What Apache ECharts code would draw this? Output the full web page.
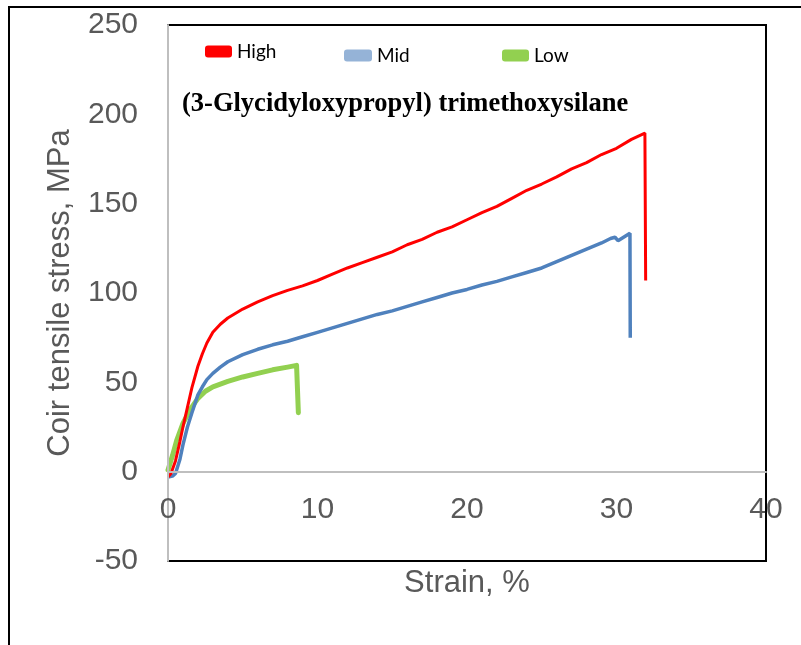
<!DOCTYPE html>
<html>
<head>
<meta charset="utf-8">
<script src="https://cdn.jsdelivr.net/npm/echarts@6/dist/echarts.min.js"></script>
<style>html,body{margin:0;padding:0;background:#fff}#c{width:801px;height:645px}</style>
</head>
<body>
<div id="c"></div>
<script>
// Strain (%) and stress (MPa)
const highStrain = [0, 0.2, 0.5, 0.8, 1.0, 1.3, 1.6, 2.0, 2.3, 2.6, 3.0, 3.5, 4, 5, 6, 7, 8, 9, 10, 11, 12, 13, 14, 15, 16, 17, 18, 19, 20, 21, 22, 23, 24, 25, 26, 27, 28, 29, 30, 31, 31.9, 31.95];
const highStress = [-3, -1, 6, 17, 25, 36, 47, 59, 66, 72, 78, 82.5, 86, 91, 95, 98.5, 101.5, 104, 107, 110.5, 114, 117, 120, 123, 127, 130, 134, 137, 141, 145, 148.5, 153, 157.5, 161, 165, 169.5, 173, 177.5, 181, 186, 189.5, 107];

const midStrain = [0, 0.3, 0.5, 0.8, 1.0, 1.3, 1.6, 2.0, 2.3, 2.6, 3.0, 3.5, 4, 5, 6, 7, 8, 9, 10, 11, 12, 13, 14, 15, 16, 17, 18, 19, 20, 21, 22, 23, 24, 25, 26, 27, 28, 29, 29.6, 29.9, 30.1, 30.9, 30.92];
const midStress = [-3, -2.5, -1, 7, 15, 25, 33, 43, 47.5, 51.5, 55, 58.5, 61.5, 65.5, 68.5, 71, 73, 75.5, 78, 80.5, 83, 85.5, 88, 90, 92.5, 95, 97.5, 100, 102, 104.5, 106.5, 109, 111.5, 114, 117.5, 121, 124.5, 128, 130.5, 131.2, 129.3, 133.5, 75];

const lowStrain = [0, 0.3, 0.6, 1.0, 1.5, 2.0, 2.5, 3.0, 4, 5, 6, 7, 8, 8.6, 8.7, 8.72];
const lowStress = [1, 9, 18, 27, 35, 41, 45, 47.5, 50.5, 53, 55, 57, 58.5, 59.5, 58.5, 33];

const xTicks = {min: 0, max: 40, interval: 10};
const yTicks = {min: -50, max: 250, interval: 50};

const seriesNames = ['High', 'Mid', 'Low'];
const titleText = '(3-Glycidyloxypropyl) trimethoxysilane';
const xTitle = 'Strain, %';
const yTitle = 'Coir tensile stress, MPa';

function pairs(xs, ys) { return xs.map((x, i) => [x, ys[i]]); }

const gridTop = 25, gridBottom = 84, H = 645;
const plotH = H - gridTop - gridBottom;
// shift the x axis (line + labels) up to the y = 0 level, computed through the y range
const zeroOffset = -plotH * (0 - yTicks.min) / (yTicks.max - yTicks.min);

const chart = echarts.init(document.getElementById('c'), null, {renderer: 'canvas'});
const legendText = {fontFamily: 'Lato', fontSize: 19, color: '#000'};
chart.setOption({
  animation: false,
  backgroundColor: '#fff',
  title: {
    text: titleText, left: 177, top: 86,
    textStyle: {fontFamily: 'Liberation Serif', fontWeight: 'bold', fontSize: 26.5, color: '#000'}
  },
  legend: [
    {data: [{name: 'High', itemStyle: {color: '#FF0000'}}], left: 200, top: 37, itemWidth: 27, itemHeight: 12, icon: 'roundRect', textStyle: legendText},
    {data: [{name: 'Mid', itemStyle: {color: '#95B3D7'}}], left: 339, top: 41, itemWidth: 28, itemHeight: 12, icon: 'roundRect', textStyle: legendText},
    {data: [{name: 'Low', itemStyle: {color: '#92D050'}}], left: 497, top: 41, itemWidth: 27, itemHeight: 12, icon: 'roundRect', textStyle: legendText}
  ],
  graphic: [{
    type: 'rect', shape: {x: 9, y: 7, width: 900, height: 800},
    style: {fill: 'none', stroke: '#000', lineWidth: 2}, silent: true
  }],
  grid: {left: 168, right: 35, top: gridTop, bottom: gridBottom, show: true, borderColor: '#000', borderWidth: 2, backgroundColor: 'transparent', containLabel: false, outerBoundsMode: 'none'},
  xAxis: {
    type: 'value', min: xTicks.min, max: xTicks.max, interval: xTicks.interval,
    offset: zeroOffset,
    name: xTitle, nameLocation: 'middle', nameGap: 96,
    nameTextStyle: {fontFamily: 'Liberation Sans', fontSize: 31, color: '#595959'},
    axisLine: {onZero: false, lineStyle: {color: '#BFBFBF', width: 2}},
    axisTick: {show: false},
    axisLabel: {fontFamily: 'Liberation Sans', fontSize: 30, color: '#595959', margin: 23},
    splitLine: {show: false}, z: 5
  },
  yAxis: {
    type: 'value', min: yTicks.min, max: yTicks.max, interval: yTicks.interval,
    name: yTitle, nameLocation: 'middle', nameGap: 92,
    nameTextStyle: {fontFamily: 'Liberation Sans', fontSize: 31, color: '#595959'},
    axisLine: {show: true, onZero: false, lineStyle: {color: '#BFBFBF', width: 2}},
    axisTick: {show: false},
    axisLabel: {fontFamily: 'Liberation Sans', fontSize: 30, color: '#595959', margin: 30},
    splitLine: {show: false}, z: 5
  },
  series: [
    {name: seriesNames[0], type: 'line', data: pairs(highStrain, highStress), showSymbol: false, symbol: 'none', lineStyle: {color: '#FF0000', width: 3}, itemStyle: {color: '#FF0000'}, z: 4},
    {name: seriesNames[1], type: 'line', data: pairs(midStrain, midStress), showSymbol: false, symbol: 'none', lineStyle: {color: '#4F81BD', width: 3.5}, itemStyle: {color: '#4F81BD'}, z: 3},
    {name: seriesNames[2], type: 'line', data: pairs(lowStrain, lowStress), showSymbol: false, symbol: 'none', lineStyle: {color: '#92D050', width: 5, cap: 'round', join: 'round'}, itemStyle: {color: '#92D050'}, z: 2}
  ]
});
</script>
</body>
</html>
